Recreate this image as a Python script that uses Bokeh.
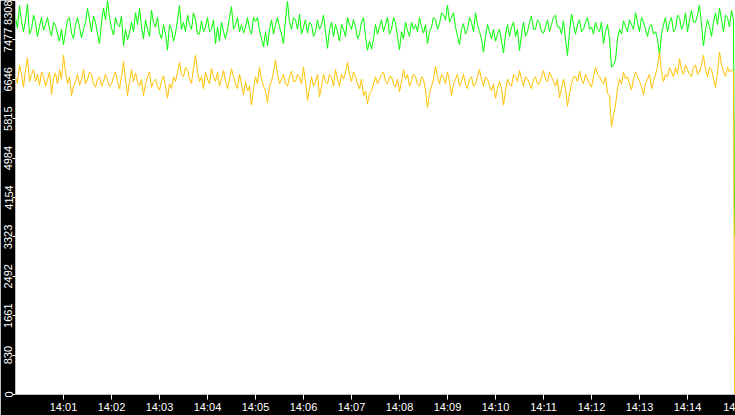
import pandas as pd
from bokeh.plotting import figure
from bokeh.models import ColumnDataSource, FixedTicker, DatetimeTickFormatter, Range1d
from bokeh.embed import file_html
from bokeh.resources import INLINE

day = "2024-01-01 "
start = pd.Timestamp(day + "14:00:00")
end = pd.Timestamp(day + "14:15:00")

# one sample every 2.5 s, the last one is where both feeds drop out
seconds = [i * 2.5 for i in range(360)] + [899]

green = [
    7950, 7720, 8200, 7880, 7650, 7900, 8230, 7600, 7700, 8000, 7850, 7550, 7760, 7950, 7680, 7800, 7950, 7700, 7560, 7850,
    7780, 7600, 7450, 7700, 7380, 7650, 7900, 7950, 7620, 7500, 7800, 7950, 7750, 7520, 7700, 7850, 8140, 7900, 7640, 7980,
    7850, 7600, 7400, 7850, 8150, 7900, 8308, 7950, 7720, 7580, 7950, 7800, 7750, 7980, 7360, 7700, 7480, 7620, 7850, 7650,
    8050, 7800, 8150, 7750, 7500, 7900, 7700, 7550, 8100, 7850, 7750, 7950, 7620, 7500, 7800, 7600, 7260, 7800, 7700, 7450,
    7620, 7900, 8200, 7700, 7850, 7650, 8000, 7800, 7700, 8050, 7900, 7600, 7600, 7880, 7650, 7750, 7950, 7650, 7700, 7900,
    7400, 7750, 7450, 7850, 7650, 7500, 7700, 7950, 8180, 7700, 7800, 7950, 7650, 7800, 7620, 7750, 7950, 7700, 7600, 7950,
    7870, 7950, 7680, 7500, 7330, 7650, 7350, 7700, 7900, 7600, 7800, 7950, 7750, 7600, 7400, 7900, 8290, 7850, 7700, 7950,
    7900, 7700, 8020, 7600, 7750, 7900, 7620, 7850, 7800, 7550, 7650, 7900, 7700, 7800, 8000, 7650, 7300, 7700, 7850, 7550,
    7800, 7650, 7450, 7800, 7700, 7550, 7950, 7800, 7700, 7900, 7750, 7500, 7600, 7850, 7950, 7550, 7260, 7450, 7280, 7500,
    7800, 7600, 7750, 7900, 7650, 7800, 7950, 7600, 7700, 7950, 7830, 7550, 7270, 7650, 7500, 7850, 7680, 7550, 7850, 7700,
    7800, 7650, 7950, 7750, 7620, 7800, 7400, 7650, 7750, 7950, 7900, 7700, 7820, 8050, 8000, 7900, 8210, 7850, 7950, 8050,
    7750, 7550, 7380, 7700, 7820, 7600, 7700, 7950, 7850, 7650, 8050, 7800, 7650, 7500, 7220, 7550, 7800, 7650, 7500, 7700,
    7450, 7600, 7700, 7450, 7200, 7600, 7800, 7550, 7750, 7850, 7550, 7700, 7250, 7600, 7850, 7550, 7650, 7850, 7980, 7700,
    7700, 7900, 7850, 7650, 7620, 7750, 7900, 7650, 7800, 7950, 8000, 7750, 7750, 7600, 7880, 7500, 7150, 7650, 8020, 7800,
    7600, 7800, 7900, 7650, 7700, 7850, 7950, 7700, 7750, 7600, 7850, 7700, 7650, 7850, 7400, 7650, 7800, 7500, 6900, 6950,
    7050, 7500, 7700, 7600, 7880, 7750, 7650, 7900, 7800, 7700, 8050, 7850, 7650, 7950, 7850, 7700, 7550, 7750, 7800, 7600,
    7650, 7500, 7150, 7600, 7800, 7950, 7650, 7850, 7950, 7650, 7700, 8000, 7950, 7700, 7800, 8050, 7650, 7900, 8100, 7850,
    7850, 8000, 8210, 7800, 7350, 7700, 7900, 7750, 7550, 7850, 8050, 7800, 8150, 7900, 7650, 8000, 7950, 7750, 8100, 7900,
    3330,
]

yellow = [
    6700, 6550, 6950, 6750, 6480, 6850, 7100, 6600, 6750, 6850, 6600, 6750, 6520, 6800, 6700, 6500, 6640, 6800, 6330, 6650,
    6780, 6550, 6850, 6650, 7150, 6800, 6550, 6700, 6300, 6500, 6600, 6750, 6520, 6650, 6850, 6550, 6650, 6800, 6750, 6550,
    6480, 6650, 6700, 6500, 6600, 6750, 6620, 6500, 6550, 6700, 6800, 6600, 6450, 6700, 7020, 6650, 6300, 6600, 6850, 6600,
    6780, 6600, 6500, 6650, 6300, 6550, 6700, 6800, 6480, 6600, 6650, 6500, 6420, 6600, 6720, 6500, 6250, 6550, 6450, 6700,
    6600, 6800, 7000, 6750, 6700, 6900, 6850, 6650, 6560, 6900, 7150, 6800, 6600, 6700, 6450, 6800, 6650, 6550, 6880, 6700,
    6600, 6800, 6500, 6650, 6830, 6600, 6450, 6650, 6870, 6700, 6550, 6450, 6750, 6550, 6320, 6600, 6400, 6500, 6100, 6450,
    6700, 6550, 6900, 6650, 6500, 6400, 6150, 6500, 6600, 6800, 7050, 6750, 6550, 6650, 6750, 6550, 6500, 6700, 6820, 6600,
    6600, 6750, 6700, 6550, 6900, 6600, 6200, 6450, 6700, 6500, 6600, 6750, 6280, 6500, 6750, 6600, 6550, 6750, 6700, 6500,
    6850, 6650, 6500, 6750, 6650, 6800, 7000, 6750, 6600, 6800, 6700, 6550, 6450, 6650, 6300, 6400, 6130, 6350, 6400, 6550,
    6700, 6550, 6650, 6750, 6800, 6600, 6550, 6700, 6700, 6550, 6480, 6650, 6380, 6600, 6850, 6650, 6750, 6500, 6620, 6750,
    6700, 6550, 6500, 6700, 6650, 6400, 6050, 6350, 6500, 6650, 6920, 6700, 6550, 6750, 6700, 6550, 6800, 6600, 6300, 6550,
    6650, 6750, 6500, 6600, 6750, 6550, 6450, 6650, 6700, 6500, 6550, 6700, 6850, 6650, 6500, 6700, 6650, 6500, 6400, 6550,
    6250, 6450, 6600, 6450, 6100, 6400, 6650, 6550, 6500, 6750, 6700, 6600, 6830, 6650, 6500, 6700, 6650, 6550, 6450, 6650,
    6700, 6550, 6550, 6700, 6830, 6650, 6600, 6800, 6700, 6600, 6500, 6650, 6260, 6450, 6650, 6450, 6080, 6350, 6550, 6700,
    6700, 6600, 6820, 6650, 6550, 6750, 6650, 6550, 6480, 6700, 6900, 6750, 6700, 6600, 6550, 6700, 6350, 6300, 5650, 5900,
    6100, 6450, 6650, 6550, 6800, 6650, 6700, 6550, 6420, 6650, 6800, 6700, 6600, 6500, 6320, 6550, 6650, 6750, 6450, 6600,
    6750, 6900, 7220, 6800, 6600, 6750, 6700, 6900, 6800, 6700, 6900, 6750, 7080, 6850, 6750, 6950, 6850, 6750, 6700, 6900,
    6950, 6750, 6800, 6950, 7150, 6850, 6700, 6900, 6850, 6650, 6480, 6800, 7220, 6950, 6800, 6700, 6900, 6800, 6850, 6800,
    0,
]

y_max = 8308
y_ticks = [0, 830, 1661, 2492, 3323, 4154, 4984, 5815, 6646, 7477, 8308]
x_tick_labels = ["14:01", "14:02", "14:03", "14:04", "14:05", "14:06", "14:07",
                 "14:08", "14:09", "14:10", "14:11", "14:12", "14:13", "14:14", "14:15"]
# the 14:15 label runs off the right edge, only "14" of it shows
last_label_shown = "14"

times = [start + pd.Timedelta(seconds=s) for s in seconds]
x_ticks = [pd.Timestamp(day + t).value / 1e6 for t in x_tick_labels]

source = ColumnDataSource(data=dict(time=times, green=green, yellow=yellow))

p = figure(width=735, height=415, x_axis_type="datetime",
           x_range=Range1d(start, end), y_range=Range1d(0, y_max),
           output_backend="svg", toolbar_location=None,
           min_border_left=15, min_border_bottom=17,
           min_border_top=0, min_border_right=0,
           background_fill_color="white", border_fill_color="black",
           outline_line_color=None)

p.xgrid.visible = False
p.ygrid.visible = False

p.xaxis.ticker = FixedTicker(ticks=x_ticks)
p.xaxis.formatter = DatetimeTickFormatter(minutes="%H:%M", hourmin="%H:%M", hours="%H:%M")
p.xaxis.major_label_overrides = {x_ticks[-1]: last_label_shown}
p.yaxis.ticker = FixedTicker(ticks=y_ticks)
p.yaxis.major_label_orientation = "vertical"

for ax in (p.xaxis, p.yaxis):
    ax.axis_line_color = None
    ax.major_tick_line_color = "white"
    ax.minor_tick_line_color = None
    ax.major_tick_in = 0
    ax.major_label_text_color = "white"
    ax.major_label_text_font = "Liberation Sans"
    ax.major_label_text_font_size = "11px"
    ax.major_label_standoff = 1
p.xaxis.major_tick_out = 5
p.yaxis.major_tick_out = 3
p.yaxis.major_label_standoff = 0

p.line("time", "green", source=source, line_color="#00ff00", line_width=1)
p.line("time", "yellow", source=source, line_color="#ffc000", line_width=1)

open("out.html", "w").write(file_html(p, INLINE))
